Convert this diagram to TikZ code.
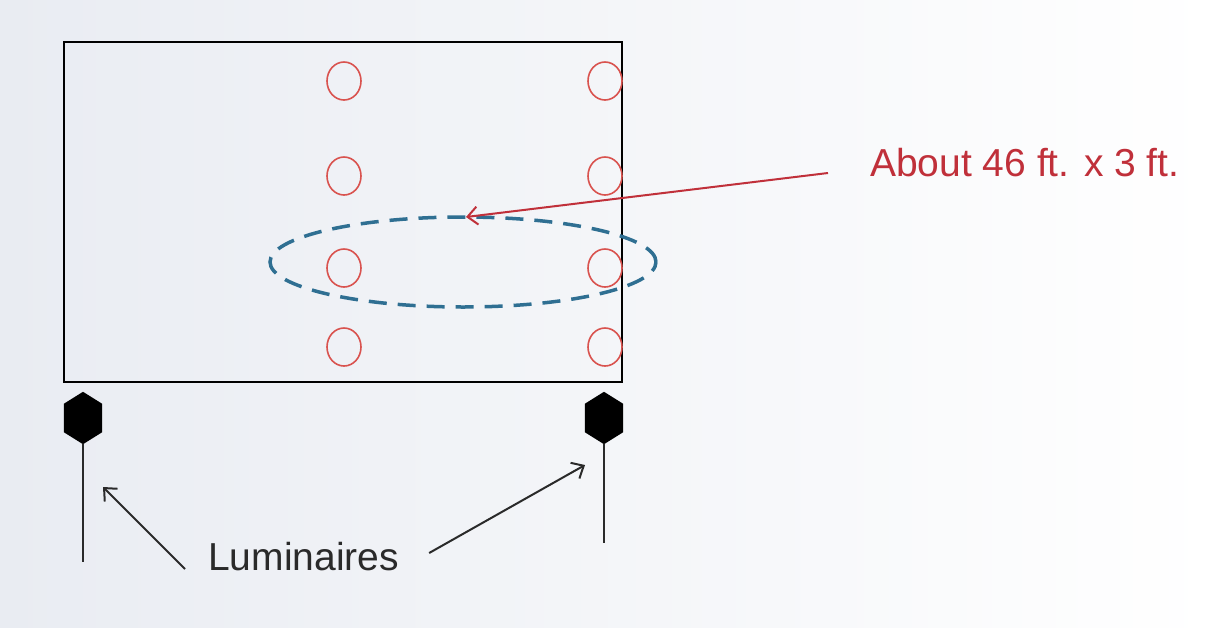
\documentclass[tikz,border=0pt]{standalone}
\usepackage{fontspec}
\setmainfont{Liberation Sans}
\usepackage{tikz}
\usetikzlibrary{arrows.meta, positioning, shapes.geometric, shapes.misc}
\definecolor{bgLeft}{HTML}{E9ECF2}
\definecolor{spotRed}{HTML}{D9534F}
\definecolor{noteRed}{HTML}{C0303A}
\definecolor{zoneBlue}{HTML}{2F6F92}
\definecolor{textDark}{HTML}{2A2A2A}
\tikzset{
  arrowK/.style={-{Straight Barb[length=10pt, width=18pt]}, textDark, line width=2pt},
  arrowR/.style={-{Straight Barb[length=10pt, width=18pt]}, noteRed, line width=2pt},
  spot/.style={ellipse, draw=spotRed, line width=1.6pt, minimum width=34pt,
               minimum height=38pt, inner sep=0pt},
  lamp/.style={rectangle, draw=none, minimum width=38pt, minimum height=52pt,
               inner sep=0pt},
  zone/.style={ellipse, draw=zoneBlue, line width=3.5pt, dash pattern=on 18pt off 11pt,
               minimum width=386pt, minimum height=90pt},
  bigtxt/.style={font=\fontsize{39}{47}\selectfont, inner sep=0pt},
}
\begin{document}
\begin{tikzpicture}[x=1pt, y=-1pt]
  % background
  \useasboundingbox (0,0) rectangle (1215,627);
  \fill[left color=bgLeft, right color=white] (0,0) rectangle (1215,627);

  % area
  \node[draw=black, line width=2pt, minimum width=558pt, minimum height=340pt,
        inner sep=0pt] (area) at (343,212) {};

  % measuring points
  \foreach \y [count=\i] in {81,176,268,347} {
    \node[spot] (pa\i) at (344,\y) {};
    \node[spot] (pb\i) at (605,\y) {};
  }

  \node[zone] (strip) at (463,262) {};

  % luminaires
  \node[lamp] (lumL) at (83,418) {};
  \node[lamp] (lumR) at (604,418) {};
  \foreach \n in {lumL,lumR}
    \fill[black] (\n.north) -- ([yshift=-12pt]\n.north east) -- ([yshift=12pt]\n.south east)
      -- (\n.south) -- ([yshift=12pt]\n.south west) -- ([yshift=-12pt]\n.north west) -- cycle;
  \coordinate (footL) at (83,562);
  \coordinate (footR) at (604,543);
  \draw[textDark, line width=1.6pt] (lumL.south) -- (footL);
  \draw[textDark, line width=1.6pt] (lumR.south) -- (footR);

  % labels
  \node[bigtxt, text=textDark, anchor=west] (lum) at (208,557) {Luminaires};
  \node[bigtxt, text=noteRed, anchor=west] (note) at (870,163) {About 46 ft. x 3 ft.};

  \coordinate (tipL) at (103,487);
  \coordinate (tipR) at (585,465);
  \coordinate (tipZ) at (466,217);
  \draw[arrowK] ([shift={(-23pt,-12pt)}]lum.west) -- (tipL);
  \draw[arrowK] ([shift={(30pt,4pt)}]lum.east) -- (tipR);
  \draw[arrowR] ([shift={(-42pt,-10pt)}]note.west) -- (tipZ);
\end{tikzpicture}
\end{document}
